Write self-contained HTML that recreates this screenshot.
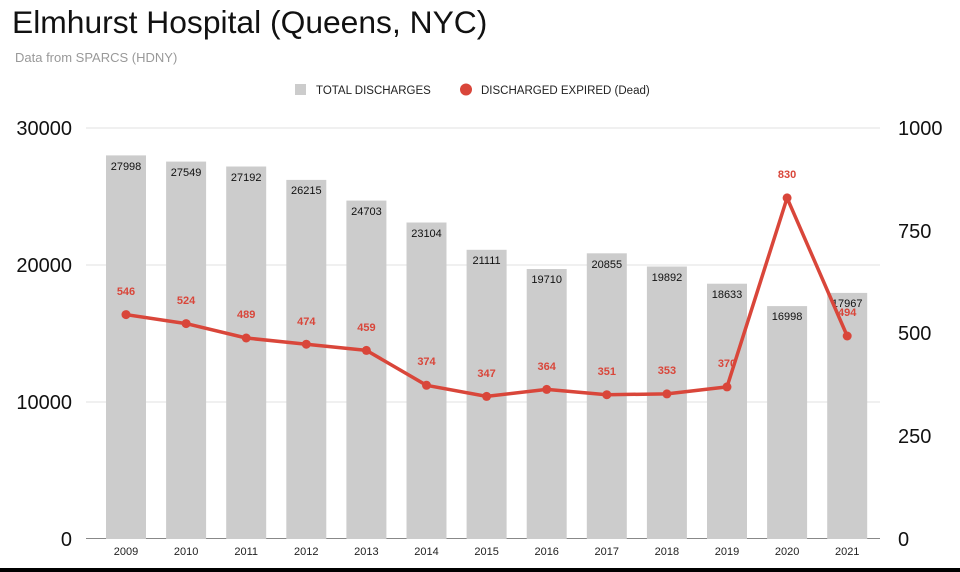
<!DOCTYPE html>
<html><head><meta charset="utf-8"><style>
html,body{margin:0;padding:0;background:#fff;width:960px;height:572px;overflow:hidden;font-family:"Liberation Sans",sans-serif}
</style></head><body>
<svg width="960" height="572" xmlns="http://www.w3.org/2000/svg" font-family="Liberation Sans, sans-serif">
<text x="12" y="33" font-size="31.8" fill="#111">Elmhurst Hospital (Queens, NYC)</text>
<text x="15" y="62" font-size="13" fill="#999">Data from SPARCS (HDNY)</text>
<rect x="295" y="84" width="11" height="11" fill="#ccc"/>
<text x="316" y="94" font-size="11.5" fill="#222">TOTAL DISCHARGES</text>
<circle cx="466" cy="89.5" r="6" fill="#d9463a"/>
<text x="481" y="94" font-size="11.5" fill="#222">DISCHARGED EXPIRED (Dead)</text>
<g stroke="#e0e0e0" stroke-width="1">
<line x1="86" y1="128" x2="880" y2="128"/><line x1="86" y1="265" x2="880" y2="265"/><line x1="86" y1="402" x2="880" y2="402"/>
</g>
<line x1="86" y1="538.5" x2="880" y2="538.5" stroke="#888" stroke-width="1"/>
<g font-size="20" fill="#111">
<text x="72" y="135" text-anchor="end">30000</text>
<text x="72" y="272" text-anchor="end">20000</text>
<text x="72" y="409" text-anchor="end">10000</text>
<text x="72" y="546" text-anchor="end">0</text>
<text x="898" y="135">1000</text>
<text x="898" y="238">750</text>
<text x="898" y="340">500</text>
<text x="898" y="443">250</text>
<text x="898" y="546">0</text>
</g>
<g fill="#ccc">
<rect x="106" y="155.4" width="40" height="383.6"/>
<rect x="166.1" y="161.6" width="40" height="377.4"/>
<rect x="226.2" y="166.5" width="40" height="372.5"/>
<rect x="286.3" y="179.9" width="40" height="359.1"/>
<rect x="346.4" y="200.6" width="40" height="338.4"/>
<rect x="406.5" y="222.5" width="40" height="316.5"/>
<rect x="466.6" y="249.8" width="40" height="289.2"/>
<rect x="526.7" y="269" width="40" height="270"/>
<rect x="586.8" y="253.3" width="40" height="285.7"/>
<rect x="646.9" y="266.5" width="40" height="272.5"/>
<rect x="707" y="283.7" width="40" height="255.3"/>
<rect x="767.1" y="306.1" width="40" height="232.9"/>
<rect x="827.2" y="292.9" width="40" height="246.1"/>
</g>
<g font-size="11" fill="#111" text-anchor="middle">
<text x="126" y="170">27998</text><text x="186.1" y="176">27549</text><text x="246.2" y="181">27192</text>
<text x="306.3" y="194">26215</text><text x="366.4" y="215">24703</text><text x="426.5" y="237">23104</text>
<text x="486.6" y="264">21111</text><text x="546.7" y="283">19710</text><text x="606.8" y="268">20855</text>
<text x="666.9" y="281">19892</text><text x="727" y="298">18633</text><text x="787.1" y="320">16998</text>
<text x="847.2" y="307">17967</text>
</g>
<polyline fill="none" stroke="#d9463a" stroke-width="3.5" stroke-linejoin="round" points="126,314.6 186.1,323.6 246.2,338 306.3,344.2 366.4,350.4 426.5,385.3 486.6,396.4 546.7,389.4 606.8,394.7 666.9,393.9 727,386.9 787.1,197.9 847.2,336"/>
<g fill="#d9463a">
<circle cx="126" cy="314.6" r="4.5"/><circle cx="186.1" cy="323.6" r="4.5"/><circle cx="246.2" cy="338" r="4.5"/>
<circle cx="306.3" cy="344.2" r="4.5"/><circle cx="366.4" cy="350.4" r="4.5"/><circle cx="426.5" cy="385.3" r="4.5"/>
<circle cx="486.6" cy="396.4" r="4.5"/><circle cx="546.7" cy="389.4" r="4.5"/><circle cx="606.8" cy="394.7" r="4.5"/>
<circle cx="666.9" cy="393.9" r="4.5"/><circle cx="727" cy="386.9" r="4.5"/><circle cx="787.1" cy="197.9" r="4.5"/>
<circle cx="847.2" cy="336" r="4.5"/>
</g>
<g font-size="11" fill="#d9463a" text-anchor="middle" font-weight="bold">
<text x="126" y="295">546</text><text x="186.1" y="304">524</text><text x="246.2" y="318">489</text>
<text x="306.3" y="325">474</text><text x="366.4" y="331">459</text><text x="426.5" y="365">374</text>
<text x="486.6" y="377">347</text><text x="546.7" y="370">364</text><text x="606.8" y="375">351</text>
<text x="666.9" y="374">353</text><text x="727" y="367">370</text><text x="787.1" y="178">830</text>
<text x="847.2" y="316">494</text>
</g>
<g font-size="11" fill="#222" text-anchor="middle">
<text x="126" y="555">2009</text><text x="186.1" y="555">2010</text><text x="246.2" y="555">2011</text>
<text x="306.3" y="555">2012</text><text x="366.4" y="555">2013</text><text x="426.5" y="555">2014</text>
<text x="486.6" y="555">2015</text><text x="546.7" y="555">2016</text><text x="606.8" y="555">2017</text>
<text x="666.9" y="555">2018</text><text x="727" y="555">2019</text><text x="787.1" y="555">2020</text>
<text x="847.2" y="555">2021</text>
</g>
<rect x="0" y="568" width="960" height="4" fill="#000"/>
</svg>
</body></html>
